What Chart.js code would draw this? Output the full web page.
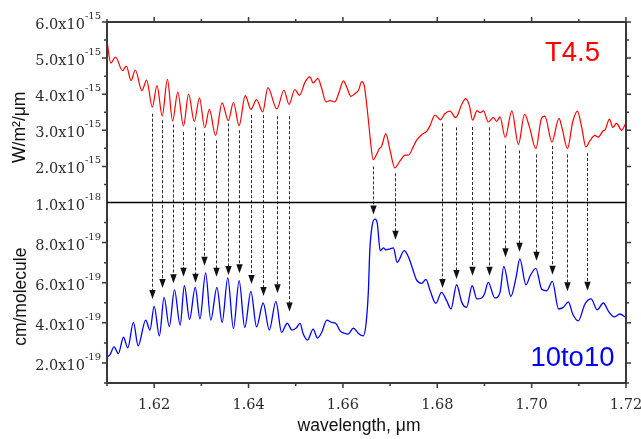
<!DOCTYPE html>
<html>
<head>
<meta charset="utf-8">
<script src="https://cdn.jsdelivr.net/npm/chart.js@4.4.1/dist/chart.umd.min.js"></script>
<style>
  html, body { margin: 0; padding: 0; background: #fff; }
  canvas { display: block; }
</style>
</head>
<body>
<canvas id="spectra" width="641" height="439"></canvas>
<script>
// T4.5 observed spectrum: wavelength (um) and flux (x1e-15 W/m2/um)
const redWl = [
  1.6100, 1.6108, 1.6118, 1.6133, 1.6141, 1.6151, 1.6160, 1.6174, 1.6184, 1.6196,
  1.6206, 1.6217, 1.6228, 1.6239, 1.6250, 1.6262, 1.6273, 1.6285, 1.6296, 1.6307,
  1.6317, 1.6330, 1.6344, 1.6357, 1.6368, 1.6380, 1.6393, 1.6405, 1.6417, 1.6430,
  1.6441, 1.6460, 1.6475, 1.6486, 1.6498, 1.6508, 1.6520, 1.6530, 1.6537, 1.6547,
  1.6555, 1.6564, 1.6573, 1.6583, 1.6592, 1.6601, 1.6608, 1.6617, 1.6626, 1.6633,
  1.6640, 1.6645, 1.6649, 1.6654, 1.6659, 1.6664, 1.6672, 1.6677, 1.6682, 1.6691,
  1.6700, 1.6710, 1.6721, 1.6732, 1.6739, 1.6749, 1.6756, 1.6767, 1.6778, 1.6785,
  1.6795, 1.6807, 1.6816, 1.6827, 1.6839, 1.6852, 1.6860, 1.6868, 1.6875, 1.6884,
  1.6891, 1.6898, 1.6908, 1.6919, 1.6926, 1.6933, 1.6944, 1.6958, 1.6972, 1.6985,
  1.6995, 1.7009, 1.7021, 1.7028, 1.7043, 1.7058, 1.7064, 1.7076, 1.7087, 1.7097,
  1.7106, 1.7115, 1.7124, 1.7134, 1.7141, 1.7151, 1.7156, 1.7165, 1.7172, 1.7180,
  1.7191, 1.7198
];
const redFlux = [
  5.47, 4.86, 5.03, 4.65, 4.78, 4.38, 4.67, 4.10, 4.39, 3.64,
  4.24, 3.40, 4.41, 3.26, 4.06, 3.12, 4.00, 3.24, 3.90, 3.07,
  3.58, 2.86, 3.76, 3.27, 3.77, 3.13, 3.96, 3.58, 3.85, 3.51,
  4.18, 3.59, 4.11, 3.72, 4.13, 3.97, 4.34, 4.48, 4.31, 4.44,
  4.16, 3.79, 3.82, 3.79, 4.06, 4.37, 4.20, 3.94, 4.02, 4.11,
  4.35, 4.25, 3.88, 3.28, 2.63, 2.19, 2.35, 2.49, 2.56, 2.91,
  2.44, 1.96, 2.15, 2.31, 2.31, 2.54, 2.72, 2.88, 2.98, 3.14,
  3.42, 3.29, 3.46, 3.53, 3.35, 3.72, 3.88, 3.69, 3.28, 3.54,
  3.49, 3.54, 3.23, 3.35, 3.25, 3.37, 2.80, 3.54, 2.61, 3.44,
  3.11, 2.49, 3.34, 3.39, 2.68, 3.33, 3.09, 2.49, 3.23, 3.53,
  3.09, 2.54, 2.72, 2.86, 2.81, 2.98, 3.02, 3.31, 3.08, 3.19,
  3.00, 3.16
];

// 10to10 line list cross sections (x1e-19 cm/molecule)
const blueWl = [
  1.6100, 1.6106, 1.6115, 1.6124, 1.6135, 1.6144, 1.6156, 1.6166, 1.6182, 1.6191,
  1.6200, 1.6211, 1.6221, 1.6232, 1.6243, 1.6255, 1.6264, 1.6275, 1.6287, 1.6297,
  1.6309, 1.6320, 1.6333, 1.6344, 1.6356, 1.6368, 1.6380, 1.6392, 1.6405, 1.6417,
  1.6431, 1.6444, 1.6458, 1.6470, 1.6482, 1.6492, 1.6501, 1.6509, 1.6516, 1.6525,
  1.6537, 1.6546, 1.6555, 1.6566, 1.6576, 1.6585, 1.6594, 1.6604, 1.6611, 1.6622,
  1.6633, 1.6643, 1.6649, 1.6654, 1.6657, 1.6662, 1.6668, 1.6673, 1.6679, 1.6686,
  1.6691, 1.6700, 1.6707, 1.6715, 1.6730, 1.6742, 1.6749, 1.6756, 1.6767, 1.6776,
  1.6785, 1.6797, 1.6809, 1.6820, 1.6829, 1.6841, 1.6852, 1.6862, 1.6874, 1.6884,
  1.6894, 1.6900, 1.6908, 1.6922, 1.6933, 1.6941, 1.6956, 1.6967, 1.6975, 1.6988,
  1.6997, 1.7009, 1.7021, 1.7032, 1.7044, 1.7057, 1.7067, 1.7078, 1.7087, 1.7099,
  1.7113, 1.7126, 1.7139, 1.7152, 1.7163, 1.7175, 1.7187, 1.7198
];
const blueCross = [
  2.30, 2.40, 2.80, 2.47, 3.28, 2.75, 4.02, 2.85, 4.14, 3.64,
  4.82, 3.35, 5.27, 3.81, 5.64, 3.89, 5.85, 4.17, 5.77, 4.20,
  6.49, 4.14, 5.77, 4.02, 6.24, 3.72, 6.10, 3.77, 5.57, 3.80,
  4.99, 3.64, 5.07, 3.52, 3.98, 3.64, 3.74, 3.97, 3.44, 3.14,
  3.69, 3.24, 3.52, 4.14, 4.02, 3.97, 3.60, 3.47, 3.44, 3.74,
  3.47, 3.35, 3.94, 5.60, 7.60, 8.85, 9.17, 8.94, 7.60, 7.74,
  7.64, 7.69, 7.74, 7.02, 7.60, 7.10, 6.60, 6.14, 5.97, 6.17,
  5.60, 4.97, 5.52, 5.10, 4.69, 5.90, 5.02, 4.77, 5.85, 5.19,
  5.24, 5.44, 6.02, 5.24, 5.52, 6.82, 5.32, 6.27, 7.19, 5.89,
  6.35, 6.72, 5.69, 5.60, 6.07, 4.69, 4.77, 5.05, 4.44, 4.10,
  4.94, 5.19, 4.65, 4.99, 4.57, 4.30, 4.44, 4.30
];

// matched features: wavelength, start on the flux curve, tip on the cross section
const arrowWl = [
  1.6195, 1.6217, 1.6240, 1.6262, 1.6286, 1.6306, 1.6330, 1.6357, 1.6380, 1.6405,
  1.6430, 1.6460, 1.6486, 1.6663, 1.6711, 1.6809, 1.6840, 1.6874, 1.6909, 1.6944,
  1.6973, 1.7009, 1.7044, 1.7076, 1.7117
];
const arrowFrom = [
  3.46, 3.28, 3.16, 2.95, 3.08, 2.93, 2.72, 3.19, 3.00, 3.42,
  3.42, 3.39, 3.39, 2.00, 1.81, 3.19, 3.08, 3.09, 3.08, 2.58,
  2.44, 2.33, 2.56, 2.33, 2.37
];
const arrowTo = [
  5.19, 5.74, 5.97, 6.30, 6.00, 6.85, 6.30, 6.39, 6.47, 5.94,
  5.34, 5.47, 4.57, 9.40, 8.14, 5.74, 6.19, 6.35, 6.35, 7.27,
  7.55, 7.10, 6.40, 5.57, 5.60
];

// axis ticks and labels
const xTicks = [1.62, 1.64, 1.66, 1.68, 1.70, 1.72];
const xTickLabels = ['1.62', '1.64', '1.66', '1.68', '1.70', '1.72'];
const topTicks = [6, 5, 4, 3, 2];
const topTickLabels = ['6.0x10', '5.0x10', '4.0x10', '3.0x10', '2.0x10'];
const topTickExps = ['-15', '-15', '-15', '-15', '-15'];
const botTicks = [10, 8, 6, 4, 2];
const botTickLabels = ['1.0x10', '8.0x10', '6.0x10', '4.0x10', '2.0x10'];
const botTickExps = ['-18', '-19', '-19', '-19', '-19'];

const SERIF = '"DejaVu Serif", serif';
const SANS = '"Liberation Sans", Arial, sans-serif';
const AXIS = '#3a3a3a';

const toPoints = (xs, ys) => xs.map((x, i) => ({ x, y: ys[i] }));

function yLabel(ctx, left, y, base, exp) {
    ctx.font = '10px ' + SERIF;
    const ex = left - 6 - ctx.measureText(exp).width;
    ctx.textAlign = 'left';
    ctx.fillText(exp, ex, y - 3);
    ctx.font = '14.5px ' + SERIF;
    ctx.textAlign = 'right';
    ctx.fillText(base, ex, y + 7);
}

// frame, ticks, labels and the identification arrows
const decorations = {
    id: 'decorations',
    afterDatasetsDraw(chart) {
        const { ctx, chartArea: a, scales } = chart;
        const sx = scales.x, st = scales.yTop, sb = scales.yBot;
        ctx.save();

        // dashed arrows from the flux dips down to the cross-section peaks
        ctx.lineWidth = 1;
        ctx.strokeStyle = '#2a2a2a';
        ctx.fillStyle = '#111';
        arrowWl.forEach((w, i) => {
            const px = Math.round(sx.getPixelForValue(w)) + 0.5;
            const y0 = st.getPixelForValue(arrowFrom[i]);
            const y1 = sb.getPixelForValue(arrowTo[i]);
            ctx.setLineDash([3, 2]);
            ctx.beginPath();
            ctx.moveTo(px, y0);
            ctx.lineTo(px, y1 - 8);
            ctx.stroke();
            ctx.setLineDash([]);
            ctx.beginPath();
            ctx.moveTo(px - 3.2, y1 - 9);
            ctx.lineTo(px + 3.2, y1 - 9);
            ctx.lineTo(px, y1);
            ctx.closePath();
            ctx.fill();
        });

        // outer frame and panel divider
        ctx.strokeStyle = AXIS;
        ctx.lineWidth = 2;
        ctx.strokeRect(a.left, a.top, a.right - a.left, a.bottom - a.top);
        ctx.strokeStyle = '#000';
        ctx.lineWidth = 1.5;
        ctx.beginPath();
        ctx.moveTo(a.left, st.bottom);
        ctx.lineTo(a.right, st.bottom);
        ctx.stroke();

        // tick marks, pointing outward
        ctx.strokeStyle = AXIS;
        ctx.lineWidth = 1.5;
        for (let i = 0; i <= 11; i++) {
            const px = sx.getPixelForValue(1.61 + i * 0.01);
            const len = i % 2 === 1 ? 5 : 3;
            ctx.beginPath();
            ctx.moveTo(px, a.bottom);
            ctx.lineTo(px, a.bottom + len);
            ctx.moveTo(px, a.top);
            ctx.lineTo(px, a.top - len);
            ctx.stroke();
        }
        const yTick = (scale, v, len) => {
            const py = scale.getPixelForValue(v);
            ctx.beginPath();
            ctx.moveTo(a.left, py);
            ctx.lineTo(a.left - len, py);
            ctx.moveTo(a.right, py);
            ctx.lineTo(a.right + len, py);
            ctx.stroke();
        };
        for (let v = 1.5; v <= 6; v += 0.5) yTick(st, v, v % 1 === 0 ? 5 : 3);
        for (let v = 1; v <= 9; v += 1) yTick(sb, v, v % 2 === 0 ? 5 : 3);

        // tick labels
        ctx.fillStyle = '#2b2b2b';
        ctx.textBaseline = 'alphabetic';
        topTicks.forEach((v, i) => yLabel(ctx, a.left, st.getPixelForValue(v), topTickLabels[i], topTickExps[i]));
        botTicks.forEach((v, i) => yLabel(ctx, a.left, sb.getPixelForValue(v), botTickLabels[i], botTickExps[i]));
        ctx.font = '14.5px ' + SERIF;
        ctx.textAlign = 'center';
        xTicks.forEach((v, i) => ctx.fillText(xTickLabels[i], sx.getPixelForValue(v), a.bottom + 26));

        // axis titles
        ctx.fillStyle = '#111';
        ctx.font = '17.5px ' + SANS;
        ctx.fillText('wavelength, \u03bcm', 359, a.bottom + 48);
        const vTitle = (text, x, y) => {
            ctx.save();
            ctx.translate(x, y);
            ctx.rotate(-Math.PI / 2);
            ctx.fillText(text, 0, 0);
            ctx.restore();
        };
        vTitle('W/m\u00b2/\u03bcm', 25, (st.top + st.bottom) / 2 + 15);
        vTitle('cm/molecule', 26, (sb.top + sb.bottom) / 2 + 4);

        // series names
        ctx.font = '27.5px ' + SANS;
        ctx.textAlign = 'right';
        ctx.fillStyle = '#ff0000';
        ctx.fillText('T4.5', 600, 60.5);
        ctx.fillStyle = '#0000ff';
        ctx.fillText('10to10', 614.5, 366);

        ctx.restore();
    }
};

const fixedWidth = (w) => (scale) => { scale.width = w; };

new Chart(document.getElementById('spectra'), {
    type: 'line',
    data: {
        datasets: [
            {
                label: 'T4.5',
                data: toPoints(redWl, redFlux),
                yAxisID: 'yTop',
                borderColor: '#ff0000',
                borderWidth: 1.2,
                pointRadius: 0,
                fill: false,
                cubicInterpolationMode: 'monotone'
            },
            {
                label: '10to10',
                data: toPoints(blueWl, blueCross),
                yAxisID: 'yBot',
                borderColor: '#0000ff',
                borderWidth: 1.3,
                pointRadius: 0,
                fill: false,
                cubicInterpolationMode: 'monotone'
            }
        ]
    },
    options: {
        responsive: false,
        devicePixelRatio: 1,
        animation: false,
        layout: { padding: { top: 22, right: 15, left: 0, bottom: 0 } },
        plugins: { legend: { display: false }, tooltip: { enabled: false } },
        scales: {
            x: {
                type: 'linear',
                min: 1.61,
                max: 1.72,
                grid: { display: false, drawTicks: false },
                border: { display: false },
                ticks: { display: false },
                afterFit: (scale) => { scale.height = 56; }
            },
            yBot: {
                type: 'linear',
                position: 'left',
                stack: 'panels',
                stackWeight: 1,
                min: 1,
                max: 10,
                grid: { display: false, drawTicks: false },
                border: { display: false },
                ticks: { display: false },
                afterFit: fixedWidth(107)
            },
            yTop: {
                type: 'linear',
                position: 'left',
                stack: 'panels',
                stackWeight: 1,
                min: 1,
                max: 6,
                grid: { display: false, drawTicks: false },
                border: { display: false },
                ticks: { display: false },
                afterFit: fixedWidth(107)
            }
        }
    },
    plugins: [decorations]
});
</script>
</body>
</html>
